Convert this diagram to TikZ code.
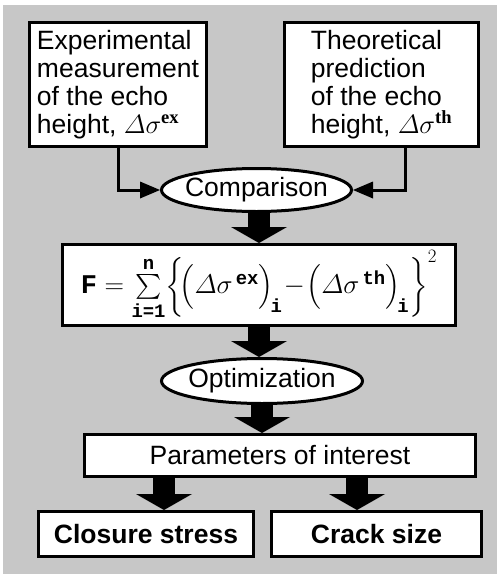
\RequirePackage{fix-cm}
\documentclass[tikz,border=0pt]{standalone}
\usepackage{amsmath}
\usepackage{fontspec}
\setmainfont{Liberation Sans}
\setmonofont{Liberation Mono}
\newfontfamily\serifgr{Liberation Serif}
\usetikzlibrary{arrows.meta,positioning,shapes.geometric}
\definecolor{halftone}{gray}{0.78}
\newcommand\boxfont{\fontsize{26.5}{28}\selectfont}
\newcommand\tb[1]{\text{\ttfamily\bfseries #1}}
\newcommand\supbf[1]{\text{\serifgr\bfseries #1}}
\newcommand\ovtext[1]{\makebox[60pt]{#1}}

\begin{document}
\begin{tikzpicture}[x=1pt,y=-1pt,
  font=\boxfont,
  box/.style={draw,line width=3pt,fill=white,inner sep=0pt,align=left},
  oval/.style={ellipse,draw,line width=3pt,fill=white,inner sep=0pt},
  link/.style={line width=3pt,-{Triangle[length=20pt,width=17pt,line width=0pt]}},
  fat/.style={line width=22pt,-{Triangle[length=16pt,width=56pt,line width=0pt]}}]
\useasboundingbox (0,0) rectangle (497,574);
\fill[halftone] (3,5) rectangle (497,574);
\node[box,minimum width=177pt,minimum height=124pt] (exp) at (118,84.5)
  {Experimental\\measurement\\of the echo\\height, $\varDelta\sigma^{\supbf{ex}}$};
\node[box,minimum width=194pt,minimum height=124pt] (thr) at (381.5,84.5)
  {Theoretical\\prediction\\of the echo\\height, $\varDelta\sigma^{\supbf{th}}$};
\node[box,minimum width=393pt,minimum height=81pt] (fbox) at (259,285)
  {\fontsize{27}{30}\selectfont$\tb{F} = \sum\limits_{\tb{i=1}}^{\tb{n}}\biggl\{\!\Bigl(\varDelta\sigma^{\,\tb{ex}}\Bigr)_{\!\tb{i}}\!-\!\Bigl(\varDelta\sigma^{\,\tb{th}}\Bigr)_{\!\tb{i}}\biggr\}^{2}$};
\node[oval,minimum width=190pt,minimum height=43pt] (cmp) at (256.5,190) {\ovtext{Comparison}};
\node[oval,minimum width=201pt,minimum height=45pt] (opt) at (262,381) {\ovtext{Optimization}};
\node[box,minimum width=391pt,minimum height=42pt] (par) at (280,455.5) {Parameters of interest};
\node[box,minimum width=215pt,minimum height=45pt,font=\boxfont\bfseries] (cls) at (146,534) {Closure stress};
\node[box,minimum width=210pt,minimum height=45pt,font=\boxfont\bfseries] (crk) at (376.5,534) {Crack size};
\draw[link] (exp.south) |- (cmp.west);
\draw[link] ([xshift=23.5pt]thr.south) |- (cmp.east);
\draw[fat] (fbox.north |- cmp.south) -- (fbox.north);
\draw[fat] (fbox.south) -- (fbox.south |- opt.north);
\draw[fat] (opt.south) -- (opt.south |- par.north);
\draw[fat] ([xshift=18pt]cls.north |- par.south) -- ([xshift=18pt]cls.north);
\draw[fat] ([xshift=-19.5pt]crk.north |- par.south) -- ([xshift=-19.5pt]crk.north);
\end{tikzpicture}
\end{document}
